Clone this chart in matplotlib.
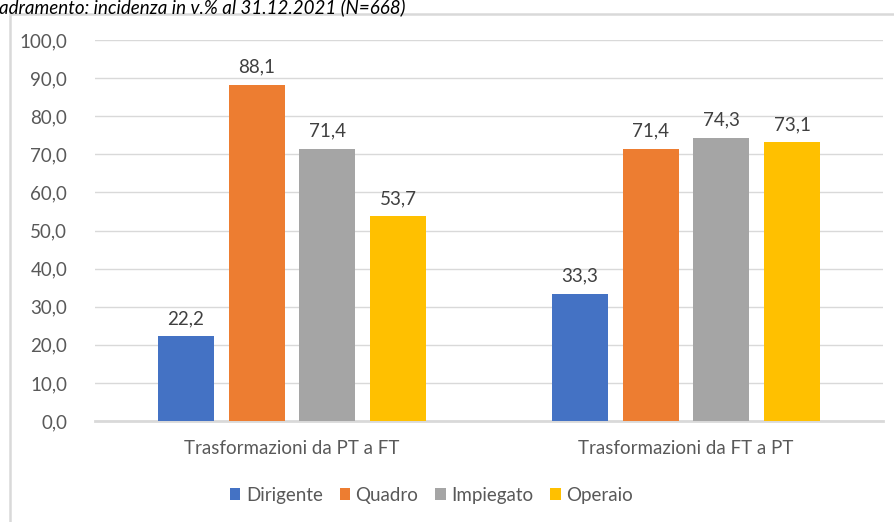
import numpy as np
import matplotlib.pyplot as plt
from matplotlib.patches import Rectangle

categories = ["Trasformazioni da PT a FT", "Trasformazioni da FT a PT"]
series = ["Dirigente", "Quadro", "Impiegato", "Operaio"]
values = [
    [22.2, 33.3],
    [88.1, 71.4],
    [71.4, 74.3],
    [53.7, 73.1],
]
colors = ["#4472C4", "#ED7D31", "#A5A5A5", "#FFC000"]
title = "adramento: incidenza in v.% al 31.12.2021 (N=668)"

plt.rcParams["font.family"] = ["Lato", "DejaVu Sans"]
txt = "#595959"
fs = 13.5

fig = plt.figure(figsize=(8.95, 5.22), dpi=100)
ax = fig.add_axes([95 / 895, 1 - 421 / 522, 788 / 895, 381 / 522])

# chart frame
fig.patches.append(Rectangle((10 / 895, -0.05), 1.0, 1 - 14 / 522 + 0.05,
                             transform=fig.transFigure, fill=False,
                             edgecolor="#d9d9d9", linewidth=1.8))
fig.text(-0.001, 1 - 16 / 522, title, ha="left", va="bottom",
         fontsize=13.5, style="italic", color="black",
         family=["Lato", "DejaVu Sans"])

x = np.arange(len(categories))
step = 0.18
width = 0.142
for i, (name, vals) in enumerate(zip(series, values)):
    pos = x + (i - 1.5) * step
    bars = ax.bar(pos, vals, width, color=colors[i], label=name, zorder=3)
    for b, v in zip(bars, vals):
        ax.text(b.get_x() + b.get_width() / 2, v + 2.5,
                ("%.1f" % v).replace(".", ","), ha="center", va="bottom",
                fontsize=fs, color="#404040")

ax.set_xlim(-0.5, 1.5)
ax.set_ylim(0, 100)
ax.set_yticks(np.arange(0, 101, 10))
ax.set_yticklabels([("%.1f" % t).replace(".", ",") for t in np.arange(0, 101, 10)],
                   fontsize=fs, color=txt)
ax.set_xticks(x)
ax.set_xticklabels(categories, fontsize=fs, color=txt)
ax.tick_params(axis="both", length=0)
ax.tick_params(axis="y", pad=20)
ax.tick_params(axis="x", pad=14)
ax.grid(axis="y", color="#d9d9d9", linewidth=1, zorder=0)
for s in ["top", "right", "left"]:
    ax.spines[s].set_visible(False)
ax.spines["bottom"].set_color("#d9d9d9")
ax.spines["bottom"].set_linewidth(2)

leg = fig.legend(loc="center", bbox_to_anchor=(0.482, 1 - 495 / 522), ncol=4,
                 frameon=False, fontsize=fs, handlelength=0.55,
                 handleheight=0.55, handletextpad=0.3, columnspacing=0.9)
for t in leg.get_texts():
    t.set_color(txt)

fig.savefig("out.png", dpi=100)
